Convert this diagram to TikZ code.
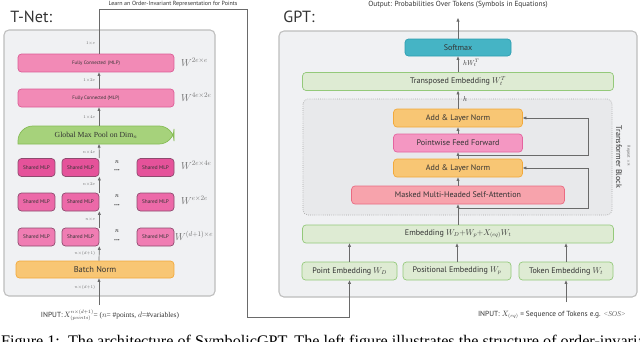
\documentclass[tikz,border=0pt]{standalone}
\usepackage{fontspec}
\setmainfont{PT Sans}
\newfontfamily\seriffont{Liberation Serif}
\usepackage{xcolor}
\usetikzlibrary{arrows.meta,calc}
\definecolor{PanelFill}{HTML}{F0F1F3}
\definecolor{PanelLine}{HTML}{BDBDBD}
\definecolor{BlockFill}{HTML}{E8E9EB}
\definecolor{BlockLine}{HTML}{A8A8A8}
\definecolor{FcFill}{HTML}{F28AB6}
\definecolor{FcLine}{HTML}{DC5C96}
\definecolor{MlpA}{HTML}{E5529A}
\definecolor{MlpB}{HTML}{EC69A8}
\definecolor{MlpC}{HTML}{F07DB3}
\definecolor{MlpLine}{HTML}{8E4A6E}
\definecolor{PoolFill}{HTML}{A6D27B}
\definecolor{PoolLine}{HTML}{86BC56}
\definecolor{NormFill}{HTML}{F8C674}
\definecolor{NormLine}{HTML}{F2A93B}
\definecolor{FfwdFill}{HTML}{F497C2}
\definecolor{FfwdLine}{HTML}{E4649F}
\definecolor{AttnFill}{HTML}{F7A3AC}
\definecolor{AttnLine}{HTML}{EA6B82}
\definecolor{SoftFill}{HTML}{45B4C5}
\definecolor{SoftLine}{HTML}{2E9EB1}
\definecolor{EmbFill}{HTML}{DEEBD3}
\definecolor{EmbLine}{HTML}{94C97A}
\definecolor{ArrGray}{HTML}{6A6A6A}
\definecolor{TextDark}{HTML}{333333}
\definecolor{TextMuted}{HTML}{6C6C6C}

\begin{document}
\begin{tikzpicture}[
	x=0.05cm, y=-0.05cm,
	panel/.style={
		draw=PanelLine,
		fill=PanelFill,
		line width=1.5pt,
		rounded corners=7pt
	},
	tblock/.style={
		draw=BlockLine,
		fill=BlockFill,
		dotted,
		line width=1pt,
		rounded corners=7pt
	},
	title/.style={
		anchor=west,
		font=\fontsize{23}{26}\selectfont,
		text=TextDark
	},
	% left side boxes
	fc/.style={
		draw=FcLine,
		fill=FcFill,
		line width=1pt,
		rounded corners=5pt,
		minimum width=7.8cm,
		minimum height=0.9cm,
		font=\fontsize{7}{8}\selectfont,
		text=TextDark
	},
	mlp/.style={
		draw=MlpLine,
		line width=1pt,
		rounded corners=5pt,
		minimum width=1.85cm,
		minimum height=0.9cm,
		inner sep=0pt,
		font=\fontsize{7.5}{8}\selectfont,
		text=TextDark
	},
	poolshape/.style={
		draw=PoolLine,
		fill=PoolFill,
		line width=1pt
	},
	pooltext/.style={
		minimum width=7.8cm,
		minimum height=0.9cm,
		font=\seriffont\fontsize{11}{12}\selectfont,
		text=TextDark
	},
	bn/.style={
		draw=NormLine,
		fill=NormFill,
		line width=1pt,
		rounded corners=5pt,
		minimum width=7.9cm,
		minimum height=0.85cm,
		font=\fontsize{12}{14}\selectfont,
		text=TextDark
	},
	dim/.style={
		anchor=east,
		inner sep=1pt,
		font=\fontsize{6.5}{7}\selectfont,
		text=TextMuted
	},
	wlbl/.style={
		anchor=west,
		inner sep=0pt,
		font=\fontsize{14}{16}\selectfont,
		text=TextMuted
	},
	% right side boxes
	gpt box/.style={
		line width=1pt,
		rounded corners=5pt,
		minimum height=0.9cm,
		font=\fontsize{11.5}{13}\selectfont,
		text=TextDark
	},
	emb/.style={gpt box, draw=EmbLine, fill=EmbFill},
	addnorm/.style={gpt box, draw=NormLine, fill=NormFill, minimum width=6.45cm},
	ffwd/.style={gpt box, draw=FfwdLine, fill=FfwdFill, minimum width=6.45cm},
	attn/.style={gpt box, draw=AttnLine, fill=AttnFill, minimum width=10.65cm},
	softmax/.style={gpt box, draw=SoftLine, fill=SoftFill, minimum width=5.3cm, minimum height=0.85cm},
	elbl/.style={
		anchor=west,
		inner sep=0pt,
		font=\fontsize{10}{11}\selectfont,
		text=TextDark
	},
	% connectors
	arr/.style={
		draw=ArrGray,
		line width=1pt,
		-{Triangle[length=5pt,width=4pt]}
	},
	feed/.style={
		draw=ArrGray,
		line width=1.1pt,
		-{Triangle[length=5pt,width=4pt]}
	}
	]
	
	\useasboundingbox (0,0) rectangle (640,342);
	\clip (0,0) rectangle (640,342);
	\fill[white] (0,0) rectangle (640,342);
	
	% ================= T-NET =================
	\draw[panel] (4,30) rectangle (215,296);
	\node[title] (tnettitle) at (8,17) {T-Net:};
	
	\node[fc] (fcA) at (96,63) {Fully Connected\ \,(MLP)};
	\node[fc] (fcB) at (96,98) {Fully Connected (MLP)};
	
	\draw[poolshape] (18,144) [rounded corners=0.75cm] -- (18,126) -- (174,126) -- (174,144) [sharp corners] -- cycle;
	\node[pooltext] (pool) at (96,135) {Global Max Pool on Dim$_n$};
	
	\node[mlp, fill=MlpA] (mlpA1) at (36.5,167.5) {Shared MLP};
	\node[mlp, fill=MlpA] (mlpA2) at (80.5,167.5) {Shared MLP};
	\node[mlp, fill=MlpA] (mlpA3) at (155.5,167.5) {Shared MLP};
	
	\node[mlp, fill=MlpB] (mlpB1) at (36.5,202) {Shared MLP};
	\node[mlp, fill=MlpB] (mlpB2) at (80.5,202) {Shared MLP};
	\node[mlp, fill=MlpB] (mlpB3) at (155.5,202) {Shared MLP};
	
	\node[mlp, fill=MlpC] (mlpC1) at (36.5,237) {Shared MLP};
	\node[mlp, fill=MlpC] (mlpC2) at (80.5,237) {Shared MLP};
	\node[mlp, fill=MlpC] (mlpC3) at (155.5,237) {Shared MLP};
	
	\node[inner sep=0pt, font=\fontsize{9}{10}\selectfont] (nA) at (117,162) {$n$};
	\node[inner sep=0pt, font=\fontsize{6}{7}\selectfont, text=TextDark] (dotsA) at (117,171) {\textbullet\textbullet\textbullet};
	\node[inner sep=0pt, font=\fontsize{9}{10}\selectfont] (nB) at (117,196.5) {$n$};
	\node[inner sep=0pt, font=\fontsize{6}{7}\selectfont, text=TextDark] (dotsB) at (117,205.5) {\textbullet\textbullet\textbullet};
	\node[inner sep=0pt, font=\fontsize{9}{10}\selectfont] (nC) at (117,231.5) {$n$};
	\node[inner sep=0pt, font=\fontsize{6}{7}\selectfont, text=TextDark] (dotsC) at (117,240.5) {\textbullet\textbullet\textbullet};
	
	\node[bn] (bnorm) at (95,269.5) {Batch Norm};
	
	\node[wlbl] (wA) at (181,62) {$W^{2e\times e}$};
	\node[wlbl] (wB) at (181,97) {$W^{4e\times 2e}$};
	\node[wlbl] (wC) at (181,165) {$W^{2e\times 4e}$};
	\node[wlbl] (wD) at (181,200) {$W^{e\times 2e}$};
	\node[wlbl] (wE) at (175,236) {$W^{(d+1)\times e}$};
	
	\node[dim] (dimA) at (96,43) {$1{\times}e$};
	\node[dim] (dimB) at (96,80) {$1{\times}2e$};
	\node[dim] (dimC) at (96,117) {$1{\times}4e$};
	\node[dim] (dimD) at (96,152) {$n{\times}4e$};
	\node[dim] (dimE) at (96,184) {$n{\times}2e$};
	\node[dim] (dimF) at (96,219) {$n{\times}e$};
	\node[dim] (dimG) at (96,253) {$n{\times}(d{+}1)$};
	\node[dim] (dimH) at (96,287) {$n{\times}(d{+}1)$};
	
	\node[font=\fontsize{10.5}{12}\selectfont, text=TextDark, inner sep=1pt] (inpl) at (110,315)
		{INPUT:\,{\seriffont $X^{n\times(d+1)}_{(points)}$= ($n$= \#points, $d$=\#variables)}};
	\coordinate (ax) at (99,0);
	\coordinate (tin) at (99,305);
	
	% ================= T-NET EDGES =================
	\draw[arr] (tin) -- (bnorm.south -| ax);
	\draw[arr] (bnorm.north -| ax) -- (mlpC2.south east);
	\draw[arr] (mlpC2.north east) -- (mlpB2.south east);
	\draw[arr] (mlpB2.north east) -- (mlpA2.south east);
	\draw[arr] (mlpA2.north east) -- (pool.south -| ax);
	\draw[arr] (pool.north -| ax) -- (fcB.south -| ax);
	\draw[arr] (fcB.north -| ax) -- (fcA.south -| ax);
	
	% ================= GPT =================
	\draw[panel] (279,31) rectangle (637,297);
	\node[title] (gpttitle) at (281,17) {GPT:};
	\draw[tblock] (303,99) rectangle (612,215);
	
	\node[softmax] (soft) at (458,47.5) {Softmax};
	\node[emb, minimum width=15.55cm] (tremb) at (458,81.5) {Transposed Embedding $W_t^T$};
	\node[addnorm] (addA) at (458,118) {Add \& Layer Norm};
	\node[ffwd] (pff) at (458,143) {Pointwise Feed Forward};
	\node[addnorm] (addB) at (458,168) {Add \& Layer Norm};
	\node[attn] (mmha) at (458,195) {Masked Multi-Headed Self-Attention};
	\node[emb, minimum width=15.55cm] (embed) at (458,234) {Embedding $W_D{+}W_p{+}X_{(eq)}W_t$};
	\node[emb, minimum width=4.75cm] (pe) at (349.5,271) {Point Embedding $W_D$};
	\node[emb, minimum width=5.4cm] (pos) at (457,271) {Positional Embedding $W_p$};
	\node[emb, minimum width=4.7cm] (tok) at (566,271) {Token Embedding $W_t$};
	
	\node[rotate=-90, font=\fontsize{11.5}{13}\selectfont, text=TextDark] (tblabel) at (619,157) {Transformer Block};
	\node[rotate=-90, font=\fontsize{6}{7}\selectfont, text=TextMuted] (replabel) at (628.5,156) {Repeat $\times 8$};
	
	\node[elbl] (hwlbl) at (463,63) {$hW_t^T$};
	\node[elbl] (hlbl) at (463,99) {$h$};
	
	\node[font=\fontsize{10.5}{12}\selectfont, text=TextDark] (outlbl) at (458,5)
		{Output: Probabilities Over Tokens (Symbols in Equations)};
	\node[font=\fontsize{8.5}{10}\selectfont, text=TextDark] (learnlbl) at (173,3.5)
		{Learn an Order-Invariant Representation for Points};
	\node[font=\fontsize{10.5}{12}\selectfont, text=TextDark, inner sep=1pt] (inpr) at (552,315)
		{INPUT: $X_{(eq)}$ = Sequence of Tokens e.g. {\seriffont\itshape\color{TextMuted}<SOS>}};
	
	\coordinate (outtip) at (458,18);
	\coordinate (rin) at (566,302);
	\coordinate (resA) at (458,208);
	\coordinate (resB) at (458,155);
	\coordinate (tr) at (247,9);
	\coordinate (br) at (247,317);
	
	% ================= GPT EDGES =================
	\draw[arr] (rin) -- (tok.south);
	\draw[arr] (pe.north) -- (pe.north |- embed.south);
	\draw[arr] (pos.north) -- (pos.north |- embed.south);
	\draw[arr] (tok.north) -- (tok.north |- embed.south);
	\draw[arr] (embed.north) -- (mmha.south);
	\draw[arr] (mmha.north) -- (addB.south);
	\draw[arr] (addB.north) -- (pff.south);
	\draw[arr] (pff.north) -- (addA.south);
	\draw[arr] (addA.north) -- (tremb.south);
	\draw[arr] (tremb.north) -- (soft.south);
	\draw[arr] (soft.north) -- (outtip);
	\draw[arr] (resA) -- ++(130,0) |- (addB.east);
	\draw[arr] (resB) -- ++(130,0) |- (addA.east);
	
	% point representation fed into the point embedding
	\draw[feed] (fcA.north -| ax) |- (tr) -- (br) -| (pe.south);
	
	% caption, cut by the page edge
	\node[anchor=base west, inner sep=0pt, font=\seriffont\fontsize{23}{26}\selectfont] (caption) at (1,346)
		{Figure 1:\ \ The architecture of SymbolicGPT. The left figure illustrates the structure of order-invariant};
	
\end{tikzpicture}
\end{document}
